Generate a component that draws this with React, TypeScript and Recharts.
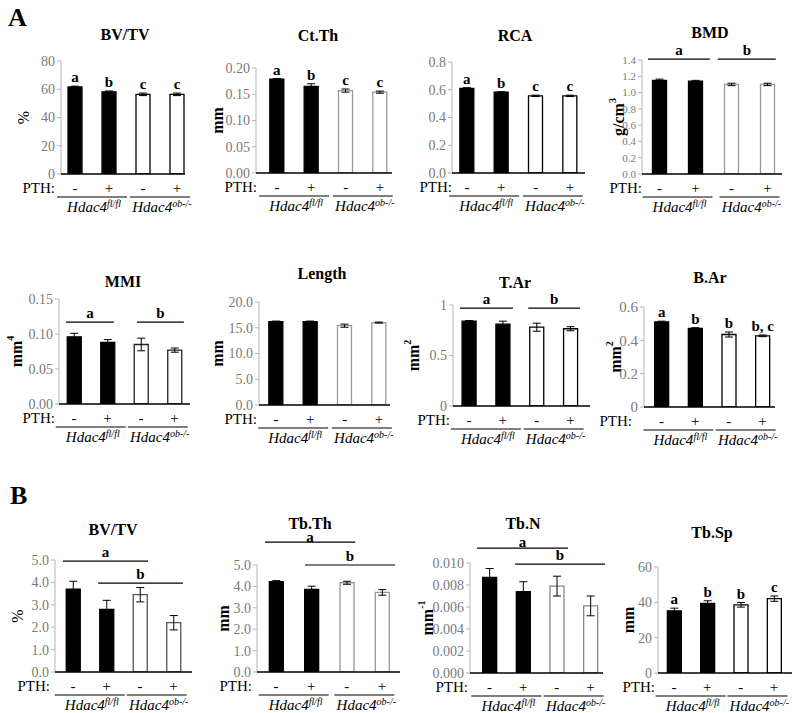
import React from "react";
import {
  BarChart,
  Bar,
  XAxis,
  YAxis,
  ErrorBar,
  Cell,
  LabelList,
  ReferenceLine,
} from "recharts";

const FONT = "Liberation Serif";

// shared categories
const pthLabels = ["-", "+", "-", "+"];
const groupSup = ["fl/fl", "ob-/-"];
const barFills = ["#000000", "#000000", "#ffffff", "#ffffff"];

// A - cortical bone
const bvtvA = [61.6, 58.2, 56.4, 56.4];
const bvtvAErr = [0.6, 0.6, 0.9, 0.9];
const bvtvALetters = ["a", "b", "c", "c"];
const bvtvATicks = [0, 20, 40, 60, 80];
const bvtvATickLabels = ["0", "20", "40", "60", "80"];

const ctth = [0.179, 0.165, 0.157, 0.154];
const ctthErr = [0.001, 0.005, 0.003, 0.002];
const ctthLetters = ["a", "b", "c", "c"];
const ctthTicks = [0, 0.05, 0.1, 0.15, 0.2];
const ctthTickLabels = ["0.00", "0.05", "0.10", "0.15", "0.20"];

const rca = [0.61, 0.582, 0.556, 0.556];
const rcaErr = [0.005, 0.004, 0.005, 0.005];
const rcaLetters = ["a", "b", "c", "c"];
const rcaTicks = [0, 0.2, 0.4, 0.6, 0.8];
const rcaTickLabels = ["0.0", "0.2", "0.4", "0.6", "0.8"];

const bmd = [1.15, 1.14, 1.1, 1.1];
const bmdErr = [0.015, 0.01, 0.015, 0.015];
const bmdTicks = [0, 0.2, 0.4, 0.6, 0.8, 1.0, 1.2, 1.4];
const bmdTickLabels = ["0.0", "0.2", "0.4", "0.6", "0.8", "1.0", "1.2", "1.4"];
const bmdSig = [
  { from: 0.68, to: 2.4, y: 1.41, label: "a" },
  { from: 2.62, to: 4.23, y: 1.41, label: "b" },
];

const mmi = [0.096, 0.088, 0.085, 0.077];
const mmiErr = [0.005, 0.004, 0.009, 0.003];
const mmiTicks = [0, 0.05, 0.1, 0.15];
const mmiTickLabels = ["0.00", "0.05", "0.10", "0.15"];
const mmiSig = [
  { from: 0.76, to: 2.19, y: 0.117, label: "a" },
  { from: 2.88, to: 4.28, y: 0.117, label: "b" },
];

const lengthV = [16.2, 16.2, 15.4, 16.0];
const lengthErr = [0.1, 0.1, 0.3, 0.1];
const lengthTicks = [0, 5, 10, 15, 20];
const lengthTickLabels = ["0.0", "5.0", "10.0", "15.0", "20.0"];

const tar = [0.84, 0.81, 0.78, 0.765];
const tarErr = [0.006, 0.03, 0.04, 0.02];
const tarTicks = [0, 0.5, 1];
const tarTickLabels = ["0", "0.5", "1"];
const tarSig = [
  { from: 0.73, to: 2.3, y: 0.97, label: "a" },
  { from: 2.75, to: 4.28, y: 0.97, label: "b" },
];

const bar = [0.51, 0.472, 0.435, 0.427];
const barErr = [0.005, 0.004, 0.015, 0.005];
const barLetters = ["a", "b", "b", "b, c"];
const barTicks = [0, 0.2, 0.4, 0.6];
const barTickLabels = ["0", "0.2", "0.4", "0.6"];

// B - trabecular bone
const bvtvB = [3.7, 2.8, 3.45, 2.2];
const bvtvBErr = [0.35, 0.4, 0.32, 0.32];
const bvtvBTicks = [0, 1, 2, 3, 4, 5];
const bvtvBTickLabels = ["0.0", "1.0", "2.0", "3.0", "4.0", "5.0"];
const bvtvBSig = [
  { from: 0.7, to: 3.24, y: 4.95, label: "a" },
  { from: 1.75, to: 4.28, y: 3.97, label: "b" },
];

const tbth = [4.22, 3.86, 4.17, 3.72];
const tbthErr = [0.05, 0.15, 0.07, 0.13];
const tbthTicks = [0, 1, 2, 3, 4, 5];
const tbthTickLabels = ["0.0", "1.0", "2.0", "3.0", "4.0", "5.0"];
const tbthSig = [
  { from: 0.69, to: 3.24, y: 6.07, label: "a" },
  { from: 1.82, to: 4.37, y: 5.0, label: "b" },
];

const tbn = [0.0087, 0.0074, 0.0079, 0.0061];
const tbnErr = [0.0008, 0.0009, 0.0009, 0.0009];
const tbnTicks = [0, 0.002, 0.004, 0.006, 0.008, 0.01];
const tbnTickLabels = ["0.000", "0.002", "0.004", "0.006", "0.008", "0.010"];
const tbnSig = [
  { from: 0.63, to: 3.33, y: 0.01136, label: "a" },
  { from: 1.76, to: 4.43, y: 0.0099, label: "b" },
];

const tbsp = [35.2, 39.4, 38.6, 42.1];
const tbspErr = [1.5, 1.5, 1.3, 1.5];
const tbspLetters = ["a", "b", "b", "c"];
const tbspTicks = [0, 20, 40, 60];
const tbspTickLabels = ["0", "20", "40", "60"];

type Sig = { from: number; to: number; y: number; label: string };

type PanelProps = {
  title: string;
  unit: string;
  unitSup?: string;
  unitBold?: boolean;
  values: number[];
  errs: number[];
  letters?: string[];
  sigs?: Sig[];
  sigOffset?: number;
  ticks: number[];
  tickLabels: string[];
  tickFont?: number;
  edge: string;
  // layout in page pixels
  axisL: number;
  axisR: number;
  plotT: number;
  plotB: number;
  c1: number;
  c4: number;
  titleX: number;
  titleY: number;
  unitX: number;
  pthDx?: number;
};

const YW = 58;
const MT = 48;
const MR = 16;
const XA1 = 20;
const XA2 = 30;

const Panel: React.FC<PanelProps> = (p) => {
  const s = (p.c4 - p.c1) / 3;
  const dom = [1 - (p.c1 - p.axisL) / s, 4 + (p.axisR - p.c4) / s];
  const left = p.axisL - YW;
  const top = p.plotT - MT;
  const width = p.axisR - left + MR;
  const height = MT + (p.plotB - p.plotT) + XA1 + XA2;
  const yMax = p.ticks[p.ticks.length - 1];

  const data = p.values.map((v, i) => ({
    x: i + 1,
    v,
    err: p.errs[i],
    letter: p.letters ? p.letters[i] : "",
  }));

  const letterContent = (props: any) => {
    const vb = props.viewBox || props;
    const { index, value } = props;
    if (!value) return null;
    const perUnit = vb.height / p.values[index];
    const yTop = vb.y - p.errs[index] * perUnit - 4;
    return (
      <text
        x={vb.x + vb.width / 2}
        y={yTop}
        textAnchor="middle"
        fontFamily={FONT}
        fontWeight="bold"
        fontSize={15}
        fill="#000"
      >
        {value}
      </text>
    );
  };

  const PthTick = (props: any) => {
    const { x, y, payload } = props;
    return (
      <text
        x={x}
        y={y + 19}
        textAnchor="middle"
        fontFamily={FONT}
        fontSize={15}
        fill="#000"
      >
        {pthLabels[Math.round(payload.value) - 1]}
      </text>
    );
  };

  const GroupTick = (props: any) => {
    const { x, y, payload } = props;
    const g = payload.value < 2.5 ? 0 : 1;
    const hw = g === 0 ? 35 : 30;
    return (
      <g>
        <line x1={x - hw} x2={x + hw} y1={y + 3} y2={y + 3} stroke="#000" strokeWidth={1.2} />
        <text
          x={x + 2}
          y={y + 18}
          textAnchor="middle"
          fontFamily={FONT}
          fontStyle="italic"
          fontSize={15}
          fill="#000"
        >
          Hdac4
          <tspan dy={-5} fontSize={10}>
            {groupSup[g]}
          </tspan>
        </text>
      </g>
    );
  };

  const unitContent = (props: any) => {
    const vb = props.viewBox;
    const cx = p.unitX - left;
    const cy = vb.y + vb.height / 2;
    return (
      <text
        transform={`translate(${cx},${cy}) rotate(-90)`}
        textAnchor="middle"
        dominantBaseline="central"
        fontFamily={FONT}
        fontSize={16}
        fontWeight={p.unitBold === false ? "normal" : "bold"}
        fill="#000"
      >
        {p.unit}
        {p.unitSup ? (
          <tspan dy={-6} fontSize={10}>
            {p.unitSup}
          </tspan>
        ) : null}
      </text>
    );
  };

  const pthContent = (props: any) => {
    const vb = props.viewBox;
    return (
      <text
        x={vb.x + (p.pthDx ?? -4)}
        y={vb.y + 19}
        textAnchor="end"
        fontFamily={FONT}
        fontSize={15}
        fill="#000"
      >
        PTH:
      </text>
    );
  };

  return (
    <>
      <div
        style={{
          position: "absolute",
          left: p.titleX - 60,
          top: p.titleY - 10,
          width: 120,
          textAlign: "center",
          fontFamily: FONT,
          fontWeight: "bold",
          fontSize: 16,
          lineHeight: "20px",
        }}
      >
        {p.title}
      </div>
      <div style={{ position: "absolute", left, top, width, height }}>
        <BarChart
          width={width}
          height={height}
          data={data}
          margin={{ top: MT, right: MR, bottom: 0, left: 0 }}
        >
          <YAxis
            type="number"
            domain={[0, yMax]}
            ticks={p.ticks}
            interval={0}
            allowDataOverflow
            width={YW}
            axisLine={{ stroke: "#b5b5b5" }}
            tickLine={{ stroke: "#b5b5b5" }}
            tickSize={4}
            tick={{ fill: "#7a7a7a", fontSize: p.tickFont || 14, fontFamily: FONT }}
            tickFormatter={(v: number) => p.tickLabels[p.ticks.indexOf(v)]}
            label={{ content: unitContent }}
          />
          <XAxis
            dataKey="x"
            type="number"
            domain={dom}
            allowDataOverflow
            ticks={[1, 2, 3, 4]}
            interval={0}
            height={XA1}
            axisLine={{ stroke: "#000", strokeWidth: 1.5 }}
            tickLine={false}
            tickSize={0}
            tickMargin={0}
            tick={PthTick}
            label={{ content: pthContent }}
          />
          <XAxis
            xAxisId="g"
            dataKey="x"
            type="number"
            domain={dom}
            allowDataOverflow
            ticks={[1.5, 3.5]}
            interval={0}
            height={XA2}
            axisLine={false}
            tickLine={false}
            tickSize={0}
            tickMargin={0}
            tick={GroupTick}
          />
          <Bar dataKey="v" barSize={14} isAnimationActive={false}>
            {data.map((d, i) => (
              <Cell
                key={i}
                fill={barFills[i]}
                stroke={i < 2 ? "#000" : p.edge}
                strokeWidth={1.3}
              />
            ))}
            <ErrorBar dataKey="err" width={4} stroke="#000" strokeWidth={1} />
            {p.letters ? <LabelList dataKey="letter" content={letterContent} /> : null}
          </Bar>
          {(p.sigs || []).map((sg, i) => (
            <ReferenceLine
              key={i}
              segment={[
                { x: sg.from, y: sg.y },
                { x: sg.to, y: sg.y },
              ]}
              stroke="#000"
              strokeWidth={1.2}
              ifOverflow="visible"
              label={{
                value: sg.label,
                position: "top",
                offset: i === 0 && p.sigOffset !== undefined ? p.sigOffset : 4,
                fill: "#000",
                fontSize: 15,
                fontWeight: "bold",
                fontFamily: FONT,
              }}
            />
          ))}
        </BarChart>
      </div>
    </>
  );
};

export default function App() {
  return (
    <div
      style={{
        position: "absolute",
        left: 0,
        top: 0,
        width: 800,
        height: 713,
        background: "#fff",
        overflow: "hidden",
      }}
    >
      <div style={{ position: "absolute", left: 8, top: 3, fontFamily: FONT, fontWeight: "bold", fontSize: 26 }}>A</div>
      <div style={{ position: "absolute", left: 10, top: 481, fontFamily: FONT, fontWeight: "bold", fontSize: 26 }}>B</div>

      <Panel title="BV/TV" unit="%" unitBold={false} values={bvtvA} errs={bvtvAErr} letters={bvtvALetters}
        ticks={bvtvATicks} tickLabels={bvtvATickLabels} edge="#000"
        axisL={61} axisR={185} plotT={61} plotB={174} c1={75} c4={177} titleX={125} titleY={35} unitX={23} pthDx={-6} />
      <Panel title="Ct.Th" unit="mm" values={ctth} errs={ctthErr} letters={ctthLetters}
        ticks={ctthTicks} tickLabels={ctthTickLabels} edge="#999"
        axisL={256} axisR={392} plotT={68} plotB={173} c1={277} c4={380} titleX={318} titleY={36} unitX={217} pthDx={1} />
      <Panel title="RCA" unit="" values={rca} errs={rcaErr} letters={rcaLetters}
        ticks={rcaTicks} tickLabels={rcaTickLabels} edge="#000"
        axisL={452} axisR={585} plotT={62} plotB={173} c1={467} c4={570} titleX={515} titleY={36} unitX={420} pthDx={0} />
      <Panel title="BMD" unit="g/cm" unitSup="3" values={bmd} errs={bmdErr} sigs={bmdSig}
        ticks={bmdTicks} tickLabels={bmdTickLabels} tickFont={11} edge="#999"
        axisL={642} axisR={782} plotT={60} plotB={174} c1={659.5} c4={767.5} titleX={710} titleY={33} unitX={618} pthDx={0} />

      <Panel title="MMI" unit="mm" unitSup="4" values={mmi} errs={mmiErr} sigs={mmiSig}
        ticks={mmiTicks} tickLabels={mmiTickLabels} edge="#222"
        axisL={59} axisR={190} plotT={299} plotB={404} c1={74} c4={174.5} titleX={123} titleY={282} unitX={16} pthDx={-4} />
      <Panel title="Length" unit="mm" values={lengthV} errs={lengthErr}
        ticks={lengthTicks} tickLabels={lengthTickLabels} edge="#999"
        axisL={259} axisR={390} plotT={302} plotB={405} c1={276} c4={379} titleX={322} titleY={274} unitX={217} pthDx={-2} />
      <Panel title="T.Ar" unit="mm" unitSup="2" values={tar} errs={tarErr} sigs={tarSig}
        ticks={tarTicks} tickLabels={tarTickLabels} edge="#000"
        axisL={453} axisR={590} plotT={305} plotB={406} c1={469} c4={570.5} titleX={515} titleY={283} unitX={413} pthDx={-3} />
      <Panel title="B.Ar" unit="mm" unitSup="2" values={bar} errs={barErr} letters={barLetters}
        ticks={barTicks} tickLabels={barTickLabels} tickFont={15} edge="#000"
        axisL={644} axisR={775} plotT={307} plotB={407} c1={661.5} c4={762.5} titleX={710} titleY={278} unitX={615} pthDx={-12} />

      <Panel title="BV/TV" unit="%" unitBold={false} values={bvtvB} errs={bvtvBErr} sigs={bvtvBSig}
        ticks={bvtvBTicks} tickLabels={bvtvBTickLabels} edge="#555"
        axisL={55} axisR={192} plotT={560} plotB={672} c1={73} c4={173.5} titleX={113} titleY={530} unitX={17} pthDx={-5} />
      <Panel title="Tb.Th" unit="mm" values={tbth} errs={tbthErr} sigs={tbthSig} sigOffset={0}
        ticks={tbthTicks} tickLabels={tbthTickLabels} edge="#999"
        axisL={257} axisR={400} plotT={565} plotB={672} c1={276} c4={382} titleX={310} titleY={524} unitX={223} pthDx={-5} />
      <Panel title="Tb.N" unit="mm" unitSup="-1" values={tbn} errs={tbnErr} sigs={tbnSig} sigOffset={1}
        ticks={tbnTicks} tickLabels={tbnTickLabels} edge="#888"
        axisL={470} axisR={603} plotT={563} plotB={673} c1={489.5} c4={590.5} titleX={523} titleY={524} unitX={427} pthDx={-2} />
      <Panel title="Tb.Sp" unit="mm" values={tbsp} errs={tbspErr} letters={tbspLetters}
        ticks={tbspTicks} tickLabels={tbspTickLabels} edge="#000"
        axisL={658} axisR={792} plotT={567} plotB={673} c1={674} c4={774} titleX={712} titleY={533} unitX={628} pthDx={-3} />
    </div>
  );
}
